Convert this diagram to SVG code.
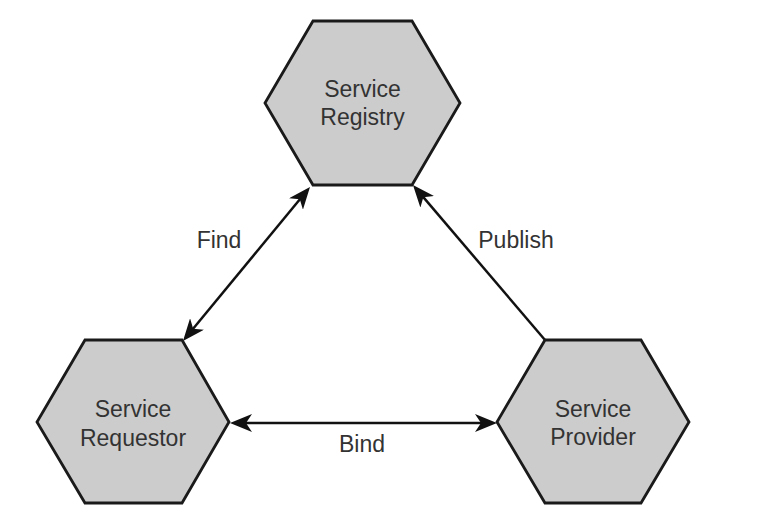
<svg xmlns="http://www.w3.org/2000/svg" width="766" height="527" viewBox="0 0 766 527">
  <style>
    .hex { fill: #cccccc; stroke: #1a1a1a; stroke-width: 2.8; stroke-linejoin: miter; }
    .lbl { font-family: "Liberation Sans", Arial, sans-serif; font-size: 23px; fill: #333333; text-anchor: middle; }
    .conn { stroke: #111111; stroke-width: 2.5; fill: none; }
  </style>
  <defs>
    <marker id="arrow" viewBox="0 0 22 18" refX="11" refY="9" markerWidth="22" markerHeight="18" markerUnits="userSpaceOnUse" orient="auto-start-reverse">
      <path d="M0,0 L22,9 L0,18 L6,9 z" fill="#111111"/>
    </marker>
  </defs>
  <rect width="766" height="527" fill="#ffffff"/>

  <g id="connectors">
    <line id="find" class="conn" x1="303" y1="195.5" x2="190" y2="332.5" marker-start="url(#arrow)" marker-end="url(#arrow)"/>
    <line id="publish" class="conn" x1="545" y1="340" x2="420.1" y2="193.4" marker-end="url(#arrow)"/>
    <line id="bind" class="conn" x1="241" y1="423" x2="486" y2="423" marker-start="url(#arrow)" marker-end="url(#arrow)"/>
    <text class="lbl" x="219" y="248">Find</text>
    <text class="lbl" x="516" y="248">Publish</text>
    <text class="lbl" x="362" y="452">Bind</text>
  </g>

  <g id="service-registry">
    <polygon class="hex" points="313,21 412,21 460,103 412,185 313,185 265,103"/>
    <text class="lbl" x="362.5" y="97">Service</text>
    <text class="lbl" x="362.5" y="125">Registry</text>
  </g>

  <g id="service-requestor">
    <polygon class="hex" points="85,340 182,340 229,422 182,503 85,503 37,422"/>
    <text class="lbl" x="133" y="417">Service</text>
    <text class="lbl" x="133" y="446">Requestor</text>
  </g>

  <g id="service-provider">
    <polygon class="hex" points="545,340 641,340 689,422 641,503 545,503 497,422"/>
    <text class="lbl" x="593" y="417">Service</text>
    <text class="lbl" x="593" y="445">Provider</text>
  </g>
</svg>
